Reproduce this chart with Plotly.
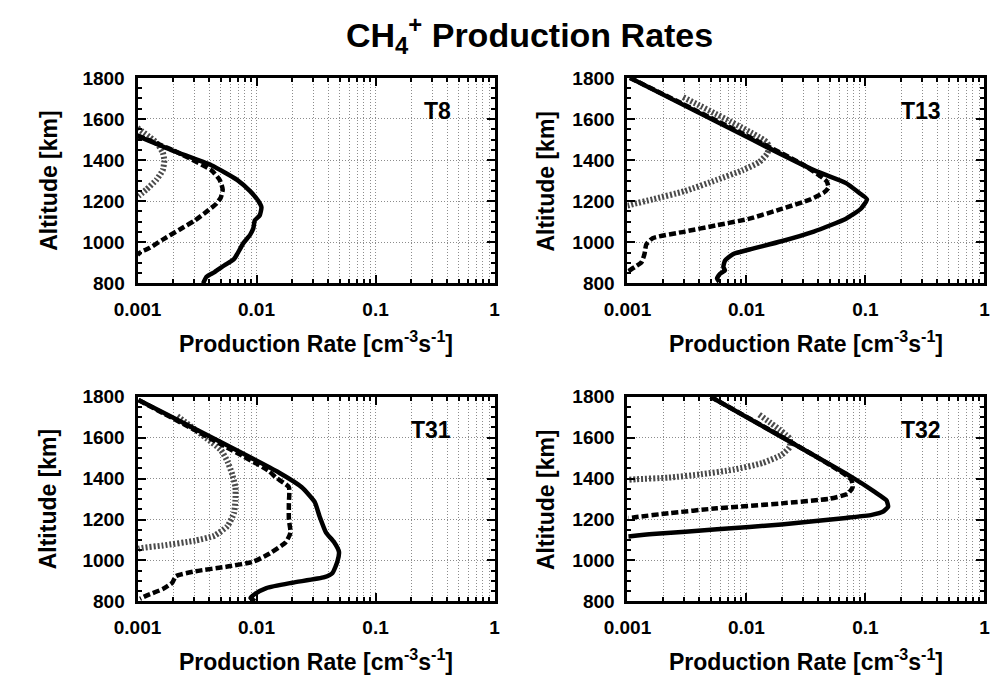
import plotly.graph_objects as go

# ---- Production-rate profiles (rate in cm^-3 s^-1, altitude in km) ----
# T8
t8_solid_rate = [0.001, 0.002, 0.00417, 0.00687, 0.00883, 0.01033, 0.0110, 0.01064, 0.00968, 0.0094,
                 0.00883, 0.00778, 0.00687, 0.00646, 0.00535, 0.00444, 0.0038, 0.00356]
t8_solid_alt = [1517, 1445, 1375, 1304, 1249, 1202, 1170, 1131, 1107, 1068,
                1036, 997, 942, 918, 887, 855, 832, 800]
t8_dash_rate = [0.001, 0.002, 0.00417, 0.0049, 0.0052, 0.0050, 0.00457, 0.0039, 0.00305, 0.00223,
                0.00163, 0.00127, 0.00105, 0.001]
t8_dash_alt = [1520, 1447, 1351, 1304, 1257, 1217, 1186, 1154, 1107, 1060,
               1013, 973, 950, 939]
t8_dot_rate = [0.001, 0.00144, 0.00163, 0.00168, 0.00163, 0.00144, 0.00119, 0.00102]
t8_dot_alt = [1556, 1485, 1437, 1398, 1351, 1304, 1257, 1225]

# T13
t13_solid_rate = [0.00105, 0.0368, 0.0687, 0.0883, 0.103, 0.091, 0.0687, 0.0368, 0.0197, 0.0106,
                  0.0077, 0.0066, 0.0064, 0.0066, 0.0060, 0.00566, 0.0059]
t13_solid_alt = [1800, 1351, 1288, 1241, 1209, 1162, 1115, 1052, 1005, 965,
                 942, 910, 879, 863, 847, 824, 808]
t13_dash_rate = [0.00105, 0.0305, 0.0473, 0.0488, 0.0445, 0.0346, 0.0197, 0.0106, 0.00566, 0.00303,
                 0.00163, 0.00144, 0.00139, 0.00131, 0.00115, 0.00102]
t13_dash_alt = [1800, 1375, 1296, 1265, 1241, 1209, 1162, 1115, 1083, 1052,
                1020, 989, 942, 902, 879, 860]
t13_dot_rate = [0.00294, 0.0149, 0.0154, 0.0149, 0.0128, 0.0093, 0.00566, 0.00303, 0.00163, 0.00112, 0.001]
t13_dot_alt = [1706, 1485, 1454, 1430, 1390, 1351, 1304, 1249, 1209, 1186, 1178]

# T31
t31_solid_rate = [0.00102, 0.0155, 0.024, 0.0308, 0.0339, 0.0384, 0.0449, 0.0493, 0.0478, 0.0435,
                  0.0372, 0.0199, 0.0121, 0.0097, 0.0089, 0.0097]
t31_solid_alt = [1784, 1429, 1358, 1286, 1215, 1136, 1089, 1042, 994, 939,
                 918, 891, 865, 836, 817, 801]
t31_dash_rate = [0.00102, 0.0125, 0.0146, 0.0187, 0.0187, 0.0187, 0.0193, 0.0176, 0.0129, 0.0094,
                 0.0057, 0.00305, 0.0021, 0.00196, 0.00163, 0.00119, 0.00105]
t31_dash_alt = [1784, 1440, 1405, 1358, 1279, 1200, 1136, 1089, 1034, 994,
                970, 947, 923, 891, 860, 828, 813]
t31_dot_rate = [0.00216, 0.00502, 0.0057, 0.00625, 0.00665, 0.00665, 0.00646, 0.0057, 0.00443, 0.00305,
                0.00163, 0.00112, 0.00102]
t31_dot_alt = [1705, 1539, 1484, 1421, 1358, 1294, 1231, 1168, 1121, 1097,
               1073, 1062, 1057]

# T32
t32_solid_rate = [0.0050, 0.078, 0.1205, 0.150, 0.155, 0.141, 0.113, 0.0687, 0.0197, 0.00566, 0.00163, 0.00102]
t32_solid_alt = [1800, 1405, 1334, 1294, 1263, 1239, 1223, 1208, 1176, 1152, 1129, 1117]
t32_dash_rate = [0.0050, 0.0755, 0.078, 0.071, 0.0503, 0.0197, 0.00566, 0.00222, 0.00119, 0.00102]
t32_dash_alt = [1800, 1397, 1358, 1326, 1302, 1279, 1255, 1231, 1212, 1207]
t32_dot_rate = [0.0128, 0.0231, 0.0231, 0.0197, 0.0136, 0.00775, 0.00415, 0.00222, 0.00119, 0.00102]
t32_dot_alt = [1713, 1595, 1555, 1516, 1476, 1444, 1421, 1405, 1397, 1394]

panel_names = ["T8", "T13", "T31", "T32"]
x_tick_vals = [0.001, 0.01, 0.1, 1]
x_tick_text = ["0.001", "0.01", "0.1", "1"]
y_tick_vals = [800, 1000, 1200, 1400, 1600, 1800]

panels = [
    (t8_dot_rate, t8_dot_alt, t8_dash_rate, t8_dash_alt, t8_solid_rate, t8_solid_alt),
    (t13_dot_rate, t13_dot_alt, t13_dash_rate, t13_dash_alt, t13_solid_rate, t13_solid_alt),
    (t31_dot_rate, t31_dot_alt, t31_dash_rate, t31_dash_alt, t31_solid_rate, t31_solid_alt),
    (t32_dot_rate, t32_dot_alt, t32_dash_rate, t32_dash_alt, t32_solid_rate, t32_solid_alt),
]

W, H = 1005, 687
FONT = "Liberation Sans, Arial, Helvetica, sans-serif"

# plot-area boxes in pixels: (left, right, top, bottom), plus y-title x position
boxes = [(117, 485, 70, 282, 25), (622, 990, 70, 282, 538),
         (117, 485, 399, 610, 25), (622, 990, 399, 610, 538)]

fig = go.Figure()
layout = dict(
    width=W, height=H, autosize=False,
    margin=dict(l=0, r=0, t=0, b=0),
    paper_bgcolor="white", plot_bgcolor="white",
    showlegend=False,
    font=dict(family=FONT, color="black"),
)

GRID = dict(showgrid=True, gridcolor="#8c8c8c", gridwidth=1, griddash="1px,2px")
minor_x = [m * 10.0 ** e for e in (-3, -2, -1) for m in range(2, 10)]
annotations = []

for i, (box, data, name) in enumerate(zip(boxes, panels, panel_names)):
    l, r, t, b, ytx = box
    xa = "xaxis" if i == 0 else f"xaxis{i + 1}"
    ya = "yaxis" if i == 0 else f"yaxis{i + 1}"
    xr = "x" if i == 0 else f"x{i + 1}"
    yr = "y" if i == 0 else f"y{i + 1}"

    dot_r, dot_a, dash_r, dash_a, sol_r, sol_a = data
    fig.add_trace(go.Scatter(x=dot_r, y=dot_a, mode="lines", xaxis=xr, yaxis=yr,
                             line=dict(color="#4a4a4a", width=6, dash="2px,2px",
                                       shape="spline", smoothing=0.5)))
    fig.add_trace(go.Scatter(x=dash_r, y=dash_a, mode="lines", xaxis=xr, yaxis=yr,
                             line=dict(color="black", width=4.5, dash="7px,3px",
                                       shape="spline", smoothing=0.5)))
    fig.add_trace(go.Scatter(x=sol_r, y=sol_a, mode="lines", xaxis=xr, yaxis=yr,
                             line=dict(color="black", width=4.5, shape="spline", smoothing=0.5)))

    layout[xa] = dict(
        domain=[l / W, r / W], anchor=yr, type="log", range=[-3, 0],
        tickvals=x_tick_vals, ticktext=x_tick_text,
        ticks="inside", ticklen=8, tickwidth=2, tickcolor="black",
        showline=True, linewidth=3, linecolor="black", mirror="ticks",
        zeroline=False, ticklabelstandoff=7,
        tickfont=dict(family=FONT, size=19, color="black", weight="bold"),
        minor=dict(tickvals=minor_x, ticks="inside", ticklen=4, tickwidth=2, tickcolor="black", **GRID),
        **GRID,
    )
    layout[ya] = dict(
        domain=[1 - b / H, 1 - t / H], anchor=xr, range=[800, 1800],
        tickvals=y_tick_vals,
        ticks="inside", ticklen=8, tickwidth=2, tickcolor="black",
        showline=True, linewidth=3, linecolor="black", mirror="ticks",
        zeroline=False, ticklabelstandoff=6,
        tickfont=dict(family=FONT, size=19, color="black", weight="bold"),
        minor=dict(dtick=50, tick0=800, ticks="inside", ticklen=4, tickwidth=2, tickcolor="black",
                   showgrid=False),
        **GRID,
    )

    # panel label
    annotations.append(dict(
        text=f"<b>{name}</b>", xref=f"{xr} domain", yref=f"{yr} domain",
        x=0.885, y=0.84, xanchor="right", yanchor="middle", showarrow=False,
        font=dict(family=FONT, size=23, color="black"),
    ))
    # x-axis title
    annotations.append(dict(
        text="<b>Production Rate [cm<sup>-3</sup>s<sup>-1</sup>]</b>",
        xref="paper", yref="paper", x=(l + r) / 2 / W, y=1 - (b + 60) / H,
        xanchor="center", yanchor="middle", showarrow=False,
        font=dict(family=FONT, size=23, color="black"),
    ))
    # y-axis title
    annotations.append(dict(
        text="<b>Altitude [km]</b>", textangle=-90,
        xref="paper", yref="paper", x=ytx / W, y=1 - (t + b) / 2 / H,
        xanchor="center", yanchor="middle", showarrow=False,
        font=dict(family=FONT, size=23, color="black"),
    ))

annotations.append(dict(
    text="<b>CH<sub>4</sub><sup>+</sup> Production Rates</b>",
    xref="paper", yref="paper", x=521 / W, y=1 - 26 / H,
    xanchor="center", yanchor="middle", showarrow=False,
    font=dict(family=FONT, size=34, color="black"),
))

layout["annotations"] = annotations
fig.update_layout(**layout)
fig.write_html("out.html")
